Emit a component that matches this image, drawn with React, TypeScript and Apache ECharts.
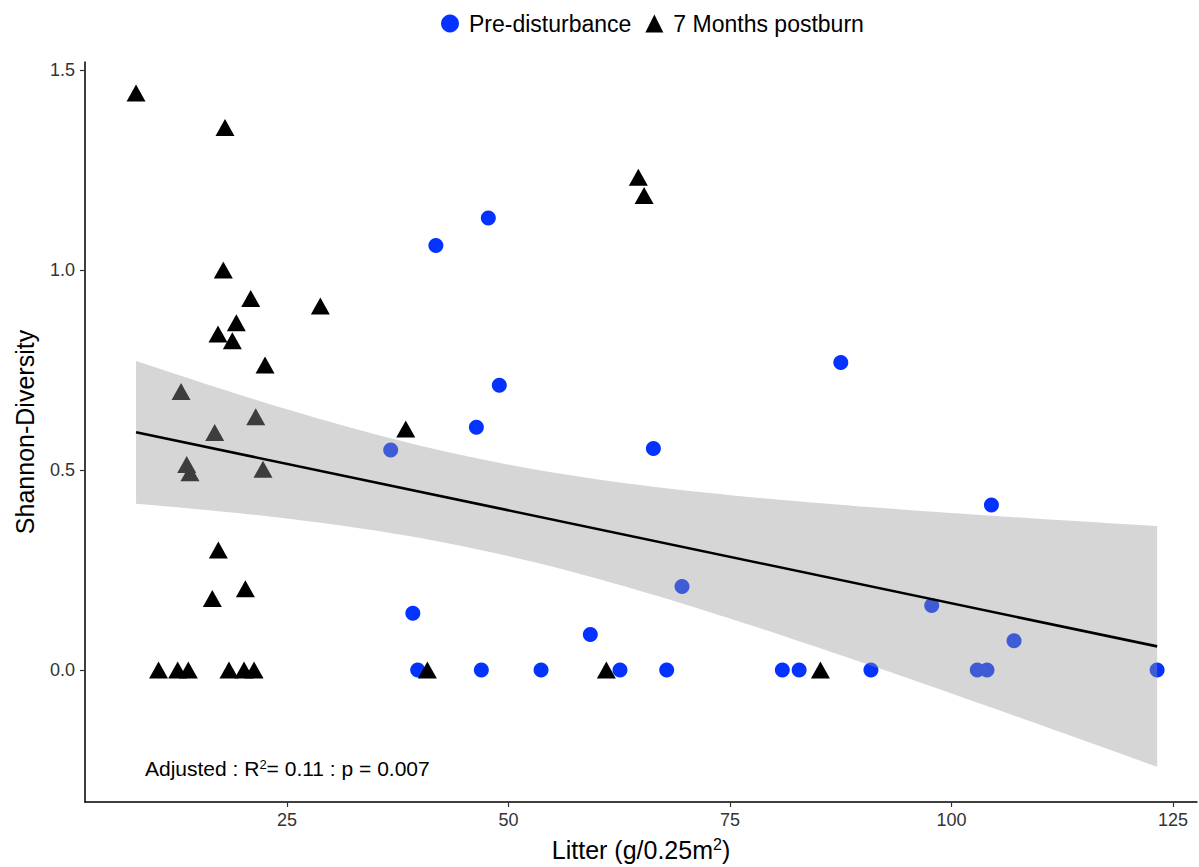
import React, { useEffect, useRef } from "react";
import * as echarts from "echarts";

// Pre-disturbance (circles)
const preX = [41.8, 47.72, 48.96, 46.37, 66.35, 36.7, 69.58, 39.2, 59.23, 87.5, 104.5, 97.76, 107.05,
  39.75, 46.93, 53.67, 62.58, 67.85, 80.9, 82.8, 90.9, 102.9, 104.0, 123.2];
const preY = [1.061, 1.13, 0.712, 0.607, 0.554, 0.55, 0.209, 0.142, 0.089, 0.769, 0.4125, 0.161, 0.073,
  0, 0, 0, 0, 0, 0, 0, 0, 0, 0, 0];

// 7 Months postburn (triangles)
const postX = [7.96, 18.0, 17.81, 20.9, 28.76, 19.28, 17.21, 18.83, 22.52, 13.04, 21.47, 16.84, 13.68, 14.05,
  22.29, 38.4, 17.25, 20.3, 16.57, 64.65, 65.3,
  10.5, 12.66, 13.86, 18.45, 20.15, 21.28, 40.84, 61.04, 85.2];
const postY = [1.4425, 1.356, 1.0, 0.929, 0.91, 0.868, 0.84, 0.823, 0.7625, 0.696, 0.633, 0.594, 0.514, 0.493,
  0.502, 0.6025, 0.30, 0.203, 0.179, 1.232, 1.186,
  0, 0, 0, 0, 0, 0, 0, 0, 0];

const xTicks = [25, 50, 75, 100, 125];
const yTicks = [0, 0.5, 1.0, 1.5];

const FONT = "Liberation Sans, Arial, Helvetica, sans-serif";

function fitLinear() {
  const xs = [...preX, ...postX];
  const ys = [...preY, ...postY];
  const n = xs.length;
  const xbar = xs.reduce((a, b) => a + b, 0) / n;
  const ybar = ys.reduce((a, b) => a + b, 0) / n;
  let sxx = 0, sxy = 0;
  for (let i = 0; i < n; i++) {
    sxx += (xs[i] - xbar) ** 2;
    sxy += (xs[i] - xbar) * (ys[i] - ybar);
  }
  const b = sxy / sxx;
  const a = ybar - b * xbar;
  let sse = 0;
  for (let i = 0; i < n; i++) sse += (ys[i] - a - b * xs[i]) ** 2;
  const s = Math.sqrt(sse / (n - 2));
  const t = 2.0066;
  const xmin = Math.min(...xs);
  const xmax = Math.max(...xs);
  const band: number[][] = [];
  const steps = 80;
  for (let k = 0; k < steps; k++) {
    const x = xmin + ((xmax - xmin) * k) / (steps - 1);
    const yh = a + b * x;
    const se = s * Math.sqrt(1 / n + (x - xbar) ** 2 / sxx);
    band.push([x, yh - t * se, yh + t * se]);
  }
  return { a, b, xmin, xmax, band };
}

export default function App() {
  const ref = useRef<HTMLDivElement>(null);
  useEffect(() => {
    if (!ref.current) return;
    const chart = echarts.init(ref.current, null, { renderer: "svg" });
    const fit = fitLinear();
    const band = fit.band;

    const option: any = {
      animation: false,
      backgroundColor: "#fff",
      grid: { left: 85, right: 2, top: 62, bottom: 65, containLabel: false, outerBoundsMode: "none" },
      legend: {
        top: 7,
        left: 436,
        itemWidth: 18,
        itemHeight: 18,
        itemGap: 14,
        textStyle: { fontFamily: FONT, fontSize: 23, color: "#000", padding: [0, 0, 0, 5] },
        data: [
          { name: "Pre-disturbance", icon: "circle" },
          { name: "7 Months postburn", icon: "triangle" },
        ],
      },
      xAxis: {
        type: "value",
        min: 2.2,
        max: 127.7,
        name: "Litter (g/0.25m{sup|2})",
        nameLocation: "middle",
        nameGap: 34,
        nameTextStyle: {
          fontFamily: FONT, fontSize: 25, color: "#000", lineHeight: 28,
          rich: { sup: { fontFamily: FONT, fontSize: 16, color: "#000", verticalAlign: "top", lineHeight: 28, padding: [0, 0, 8, 0] } },
        },
        axisLine: { show: true, onZero: false, lineStyle: { color: "#000", width: 1.5 } },
        axisTick: { show: true, length: 5, lineStyle: { color: "#333", width: 1.2 }, customValues: xTicks },
        axisLabel: {
          fontFamily: FONT, fontSize: 18, color: "#333", margin: 9,
          customValues: xTicks,
          formatter: (v: number) => String(v),
        },
        splitLine: { show: false },
      },
      yAxis: {
        type: "value",
        min: -0.33,
        max: 1.52,
        name: "Shannon-Diversity",
        nameLocation: "middle",
        nameGap: 48,
        nameTextStyle: { fontFamily: FONT, fontSize: 25, color: "#000" },
        axisLine: { show: true, onZero: false, lineStyle: { color: "#000", width: 1.5 } },
        axisTick: { show: true, length: 5, lineStyle: { color: "#333", width: 1.2 }, customValues: yTicks },
        axisLabel: {
          fontFamily: FONT, fontSize: 18, color: "#333", margin: 10,
          customValues: yTicks,
          formatter: (v: number) => v.toFixed(1),
        },
        splitLine: { show: false },
      },
      series: [
        {
          name: "Pre-disturbance",
          type: "scatter",
          z: 2,
          symbol: "circle",
          symbolSize: 15,
          itemStyle: { color: "#0433FF", opacity: 1 },
          data: preX.map((x, i) => [x, preY[i]]),
        },
        {
          name: "7 Months postburn",
          type: "scatter",
          z: 2,
          symbol: "triangle",
          symbolSize: [19, 17],
          itemStyle: { color: "#000", opacity: 1 },
          data: postX.map((x, i) => [x, postY[i]]),
        },
        {
          type: "custom",
          z: 3,
          silent: true,
          data: band.map((d) => [d[0], d[1]]),
          renderItem: (params: any, api: any) => {
            if (params.dataIndex !== 0) return null;
            const pts: number[][] = [];
            for (let i = 0; i < band.length; i++) pts.push(api.coord([band[i][0], band[i][2]]));
            for (let i = band.length - 1; i >= 0; i--) pts.push(api.coord([band[i][0], band[i][1]]));
            return {
              type: "polygon",
              shape: { points: pts },
              style: { fill: "rgba(153,153,153,0.4)", stroke: "none" },
            };
          },
        },
        {
          type: "line",
          z: 4,
          silent: true,
          symbol: "none",
          lineStyle: { color: "#000", width: 2.6 },
          data: [
            [fit.xmin, fit.a + fit.b * fit.xmin],
            [fit.xmax, fit.a + fit.b * fit.xmax],
          ],
        },
      ],
      graphic: [
        {
          type: "text",
          left: 145,
          top: 758,
          style: {
            text: "Adjusted : R{sup|2}= 0.11 : p = 0.007",
            fontFamily: FONT,
            fontSize: 21,
            fill: "#000",
            rich: { sup: { fontFamily: FONT, fontSize: 13, fill: "#000", verticalAlign: "top", padding: [0, 0, 8, 0] } },
          },
        },
      ],
    };
    chart.setOption(option);
    return () => chart.dispose();
  }, []);
  return (
    <div
      ref={ref}
      style={{ position: "fixed", left: 0, top: 0, width: 1199, height: 867 }}
    />
  );
}
